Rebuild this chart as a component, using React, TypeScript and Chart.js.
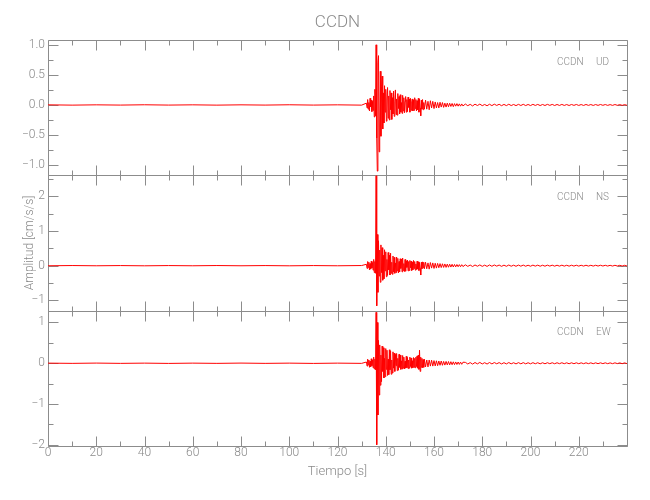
import React, { useEffect, useRef } from 'react';
import { Chart, registerables } from 'chart.js';

Chart.register(...registerables);

// ---- sampling grids (seconds) ----
const preTimes = [0, 10, 20, 30, 40, 50, 60, 70, 80, 90, 100, 110, 120, 130];
const burstAStart = 132.0; // dense part, 0.25 s samples
const burstAStep = 0.25;
const burstBStart = 156.5; // decaying coda, 0.5 s samples
const burstBStep = 0.5;
const tailStart = 173; // late coda, 1 s samples
const tailStep = 1;

// ---- UD component (cm/s/s) ----
const udPre = [0.002, -0.003, 0.002, -0.002, 0.003, -0.002, 0.002, -0.003, 0.002, -0.002, 0.003, -0.002, 0.002, -0.003];
const udBurstA = [
  0.03, -0.05, 0.09, -0.07, 0.04, -0.1, 0.11, -0.03, 0.08, -0.11,
  0.06, -0.09, 0.15, -0.2, 0.26, -0.18, 1.0, -0.55, -1.1, 0.7,
  0.82, -0.78, -0.35, 0.56, -0.52, 0.3, 0.48, -0.4, 0.2, -0.3,
  0.32, -0.12, 0.26, -0.27, 0.1, 0.29, -0.22, 0.15, -0.25, 0.24,
  -0.08, 0.2, -0.24, 0.12, -0.15, 0.23, -0.19, 0.05, 0.25, -0.16,
  0.1, -0.17, 0.19, -0.06, 0.14, -0.15, 0.17, -0.12, 0.04, -0.14,
  0.16, -0.1, 0.12, -0.13, 0.06, 0.14, -0.12, 0.09, -0.11, 0.13,
  -0.04, 0.1, -0.12, 0.11, -0.09, 0.05, 0.1, -0.1, 0.08, -0.09,
  0.12, -0.06, 0.09, -0.1, 0.07, -0.08, 0.11, -0.12, 0.1, -0.05,
  -0.18, 0.08, -0.07, 0.09, -0.08, 0.04, -0.07,
];
const udBurstB = [
  0.08, -0.07, 0.06, -0.08, 0.07, -0.05, 0.06, -0.06,
  0.05, -0.05, 0.04, -0.05, 0.045, -0.035, 0.04, -0.04,
  0.03, -0.035, 0.03, -0.03, 0.028, -0.025, 0.025, -0.028,
  0.022, -0.02, 0.022, -0.02, 0.018, -0.02, 0.017, -0.016,
];
const udTail = [
  0.015, -0.012, 0.01, -0.016, 0.013, -0.009, 0.014, -0.012, 0.008, -0.013,
  0.012, -0.011, 0.013, -0.008, 0.011, -0.012, 0.009, -0.011, 0.012, -0.01,
  0.008, -0.011, 0.01, -0.009, 0.011, -0.01, 0.008, -0.01, 0.01, -0.008,
  0.009, -0.01, 0.008, -0.009, 0.01, -0.007, 0.009, -0.009, 0.008, -0.008,
  0.009, -0.008, 0.007, -0.009, 0.008, -0.007, 0.008, -0.008, 0.007, -0.008,
  0.008, -0.007, 0.007, -0.008, 0.007, -0.007, 0.008, -0.006, 0.007, -0.007,
  0.006, -0.007, 0.007, -0.006, 0.006, -0.007, 0.006, -0.006,
];

// ---- NS component ----
const nsPre = [-0.003, 0.004, -0.003, 0.003, -0.004, 0.003, -0.003, 0.004, -0.003, 0.003, -0.004, 0.003, -0.003, 0.004];
const nsBurstA = [
  0.04, -0.08, 0.12, -0.05, 0.1, -0.12, 0.06, -0.1, 0.13, -0.07,
  0.09, -0.13, 0.18, -0.2, 0.12, -0.22, 2.6, -1.16, 0.9, -0.77,
  0.72, -0.3, 0.45, -0.48, 0.6, -0.2, 0.52, -0.42, 0.3, -0.38,
  0.46, -0.15, 0.4, -0.32, 0.18, -0.28, 0.38, -0.12, 0.3, -0.27,
  0.36, -0.22, 0.1, -0.25, 0.28, -0.18, 0.24, -0.22, 0.08, -0.2,
  0.25, -0.15, 0.21, -0.21, 0.12, -0.18, 0.2, -0.08, 0.19, -0.18,
  0.22, -0.14, 0.06, -0.17, 0.18, -0.16, 0.14, -0.05, 0.16, -0.15,
  0.12, -0.14, 0.15, -0.06, 0.13, -0.14, 0.1, -0.12, 0.15, -0.08,
  0.12, -0.13, 0.05, -0.11, 0.13, -0.1, 0.11, -0.14, 0.09, -0.08,
  -0.27, 0.1, -0.09, 0.11, -0.06, 0.1, -0.09,
];
const nsBurstB = [
  0.1, -0.09, 0.08, -0.1, 0.09, -0.07, 0.08, -0.08,
  0.07, -0.07, 0.065, -0.06, 0.06, -0.055, 0.055, -0.05,
  0.05, -0.05, 0.045, -0.045, 0.042, -0.04, 0.04, -0.038,
  0.035, -0.035, 0.033, -0.03, 0.03, -0.03, 0.028, -0.026,
];
const nsTail = [
  0.025, -0.02, 0.018, -0.024, 0.02, -0.016, 0.022, -0.02, 0.015, -0.021,
  0.02, -0.018, 0.02, -0.014, 0.018, -0.019, 0.015, -0.018, 0.019, -0.016,
  0.014, -0.018, 0.017, -0.015, 0.017, -0.016, 0.013, -0.016, 0.016, -0.013,
  0.015, -0.016, 0.013, -0.015, 0.015, -0.012, 0.014, -0.014, 0.013, -0.013,
  0.014, -0.013, 0.012, -0.014, 0.013, -0.012, 0.013, -0.013, 0.012, -0.012,
  0.013, -0.012, 0.011, -0.012, 0.012, -0.011, 0.012, -0.01, 0.011, -0.011,
  0.01, -0.011, 0.011, -0.01, 0.01, -0.011, 0.01, -0.01,
];

// ---- EW component ----
const ewPre = [0.003, -0.003, 0.004, -0.003, 0.003, -0.004, 0.003, -0.003, 0.004, -0.003, 0.003, -0.004, 0.003, -0.003];
const ewBurstA = [
  0.03, -0.07, 0.1, -0.04, 0.08, -0.1, 0.05, -0.09, 0.11, -0.06,
  0.08, -0.11, 0.15, -0.14, 0.1, -0.16, 1.25, -2.0, 1.0, -1.27,
  0.56, -0.78, 0.45, -0.54, 0.2, -0.45, 0.42, -0.2, 0.38, -0.36,
  0.12, -0.33, 0.36, -0.15, 0.32, -0.3, 0.1, -0.28, 0.33, -0.16,
  0.3, -0.27, 0.08, -0.24, 0.28, -0.12, 0.25, -0.2, 0.22, -0.06,
  0.24, -0.18, 0.12, -0.17, 0.22, -0.1, 0.2, -0.15, 0.06, -0.14,
  0.19, -0.12, 0.15, -0.14, 0.05, -0.12, 0.17, -0.11, 0.14, -0.13,
  0.08, -0.12, 0.15, -0.08, 0.13, -0.12, 0.06, -0.11, 0.14, -0.1,
  0.12, -0.11, 0.15, -0.08, 0.18, -0.12, 0.2, -0.15, 0.32, -0.2,
  0.15, -0.1, 0.12, -0.11, 0.09, -0.1, 0.1,
];
const ewBurstB = [
  -0.09, 0.08, -0.09, 0.08, -0.07, 0.075, -0.07, 0.065,
  -0.065, 0.06, -0.06, 0.055, -0.05, 0.055, -0.05, 0.045,
  -0.045, 0.045, -0.04, 0.042, -0.04, 0.038, -0.036, 0.035,
  -0.034, 0.032, -0.03, 0.03, -0.028, 0.028, -0.026, 0.025,
];
const ewTail = [
  0.022, -0.018, 0.016, -0.021, 0.018, -0.015, 0.02, -0.017, 0.014, -0.019,
  0.018, -0.016, 0.017, -0.013, 0.016, -0.017, 0.014, -0.016, 0.017, -0.014,
  0.013, -0.016, 0.015, -0.014, 0.015, -0.014, 0.012, -0.014, 0.014, -0.012,
  0.013, -0.014, 0.012, -0.013, 0.013, -0.011, 0.012, -0.012, 0.012, -0.011,
  0.012, -0.011, 0.011, -0.012, 0.011, -0.011, 0.011, -0.011, 0.01, -0.011,
  0.011, -0.01, 0.01, -0.011, 0.01, -0.01, 0.01, -0.009, 0.01, -0.01,
  0.009, -0.01, 0.01, -0.009, 0.009, -0.01, 0.009, -0.009,
];

// ---- axis ranges ----
const udRange = [-1.17, 1.08];
const nsRange = [-1.3, 2.61];
const ewRange = [-2.03, 1.29];
const timeRange = [0, 240];

const stationName = 'CCDN';
const componentNames = ['UD', 'NS', 'EW'];

const FONT = "Roboto, 'Liberation Sans', sans-serif";
const GRAY = '#8a8a8a';
const FRAME = '#8c8c8c';
const TRACE = 'rgb(255,0,0)';

function buildSeries(pre: number[], a: number[], b: number[], tail: number[]) {
  const pts: { x: number; y: number }[] = [];
  pre.forEach((v, i) => pts.push({ x: preTimes[i], y: v }));
  a.forEach((v, i) => pts.push({ x: burstAStart + i * burstAStep, y: v }));
  b.forEach((v, i) => pts.push({ x: burstBStart + i * burstBStep, y: v }));
  tail.forEach((v, i) => pts.push({ x: tailStart + i * tailStep, y: v }));
  return pts;
}

const minus = (s: string) => s.replace('-', '\u2212');

const panelIds = ['yUD', 'yNS', 'yEW'];
const majorStep: Record<string, number> = { yUD: 0.5, yNS: 1, yEW: 1 };
const minorStep: Record<string, number> = { yUD: 0.25, yNS: 0.5, yEW: 0.5 };

const framePlugin = {
  id: 'idlFrames',
  beforeDatasetsDraw(chart: any) {
    const { ctx, chartArea } = chart;
    const xs = chart.scales.x;
    ctx.save();
    ctx.strokeStyle = FRAME;
    ctx.lineWidth = 1;
    const line = (x1: number, y1: number, x2: number, y2: number) => {
      ctx.beginPath();
      ctx.moveTo(Math.round(x1) + 0.5, Math.round(y1) + 0.5);
      ctx.lineTo(Math.round(x2) + 0.5, Math.round(y2) + 0.5);
      ctx.stroke();
    };
    for (const id of panelIds) {
      const s = chart.scales[id];
      const L = chartArea.left, R = chartArea.right, T = s.top, B = s.bottom;
      line(L, T, R, T);
      line(L, B, R, B);
      line(L, T, L, B);
      line(R, T, R, B);
      for (let v = timeRange[0]; v <= timeRange[1]; v += 10) {
        const px = xs.getPixelForValue(v);
        const len = v % 20 === 0 ? 10 : 5;
        line(px, T, px, T + len);
        line(px, B, px, B - len);
      }
      const ms = minorStep[id];
      const mj = majorStep[id];
      for (let k = Math.ceil(s.min / ms); k * ms <= s.max + 1e-9; k++) {
        const v = k * ms;
        const py = s.getPixelForValue(v);
        const isMajor = Math.abs(v / mj - Math.round(v / mj)) < 1e-6;
        const len = isMajor ? 10 : 5;
        line(L, py, L + len, py);
        line(R, py, R - len, py);
      }
    }
    ctx.restore();
  },
  afterDraw(chart: any) {
    const { ctx, chartArea } = chart;
    ctx.save();
    ctx.fillStyle = GRAY;
    ctx.font = `300 10px ${FONT}`;
    ctx.textBaseline = 'middle';
    panelIds.forEach((id, i) => {
      const s = chart.scales[id];
      const y = s.top + 22;
      ctx.textAlign = 'left';
      ctx.fillText(stationName, chartArea.right - 70, y);
      ctx.fillText(componentNames[i], chartArea.right - 31, y);
    });
    ctx.restore();
  },
};

function yAxis(range: number[], step: number, decimals: number, weight: number, title?: string) {
  return {
    type: 'linear',
    position: 'left',
    stack: 'panels',
    stackWeight: 1,
    weight,
    min: range[0],
    max: range[1],
    grid: { display: false, drawTicks: false },
    border: { display: false },
    ticks: {
      stepSize: step,
      includeBounds: false,
      padding: 3,
      color: GRAY,
      font: { family: FONT, size: 12, weight: '300' },
      callback: (v: number) => minus(Number(v).toFixed(decimals)),
    },
    title: title
      ? { display: true, text: title, color: GRAY, font: { family: FONT, size: 12, weight: '300' }, padding: { top: 22.5, bottom: 0 } }
      : { display: false },
    afterFit: (scale: any) => {
      scale.width = 48;
    },
  };
}

export default function App() {
  const ref = useRef<HTMLCanvasElement>(null);
  useEffect(() => {
    if (!ref.current) return;
    const chart = new Chart(ref.current, {
      type: 'line',
      data: {
        datasets: [
          { label: 'UD', data: buildSeries(udPre, udBurstA, udBurstB, udTail), yAxisID: 'yUD', borderColor: TRACE, borderWidth: 1, pointRadius: 0, tension: 0, fill: false },
          { label: 'NS', data: buildSeries(nsPre, nsBurstA, nsBurstB, nsTail), yAxisID: 'yNS', borderColor: TRACE, borderWidth: 1, pointRadius: 0, tension: 0, fill: false },
          { label: 'EW', data: buildSeries(ewPre, ewBurstA, ewBurstB, ewTail), yAxisID: 'yEW', borderColor: TRACE, borderWidth: 1, pointRadius: 0, tension: 0, fill: false },
        ],
      },
      options: {
        animation: false,
        responsive: false,
        devicePixelRatio: 1,
        layout: { padding: { left: 0, right: 23, top: 0, bottom: 0 } },
        plugins: {
          legend: { display: false },
          tooltip: { enabled: false },
          title: {
            display: true,
            fullSize: false,
            text: stationName,
            color: GRAY,
            font: { family: FONT, size: 17, weight: '300' },
            padding: { top: 12.5, bottom: 7.1 },
          },
        },
        scales: {
          x: {
            type: 'linear',
            position: 'bottom',
            min: timeRange[0],
            max: timeRange[1],
            grid: { display: false, drawTicks: false },
            border: { display: false },
            ticks: {
              stepSize: 20,
              includeBounds: false,
              padding: 0,
              maxRotation: 0,
              color: GRAY,
              font: { family: FONT, size: 12, weight: '300' },
              callback: (v: number) => (v >= 240 ? '' : String(v)),
            },
            title: { display: true, text: 'Tiempo [s]', color: GRAY, font: { family: FONT, size: 13, weight: '300' }, padding: { top: 0, bottom: 20 } },
            afterFit: (scale: any) => {
              scale.height = 54;
            },
          },
          yUD: yAxis(udRange, 0.5, 1, 3),
          yNS: yAxis(nsRange, 1, 0, 2, 'Amplitud [cm/s/s]'),
          yEW: yAxis(ewRange, 1, 0, 1),
        } as any,
      },
      plugins: [framePlugin],
    } as any);
    return () => chart.destroy();
  }, []);
  return (
    <div style={{ position: 'fixed', left: 0, top: 0, width: 650, height: 500, background: '#fff' }}>
      <canvas ref={ref} width={650} height={500} style={{ width: 650, height: 500 }} />
    </div>
  );
}
